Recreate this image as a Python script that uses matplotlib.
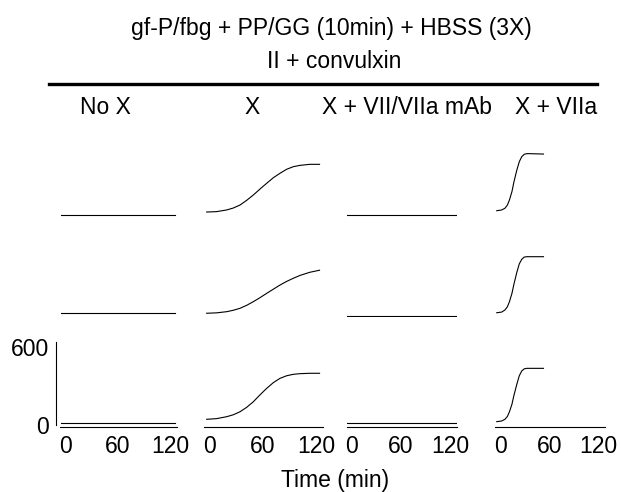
#Thrombin generation panels: 3 repeats x 4 conditions
import matplotlib.pyplot as plt

plt.rcParams['font.family'] = ['Liberation Sans', 'DejaVu Sans']

# Column labels
columns = ['No X', 'X', 'X + VII/VIIa mAb', 'X + VIIa']

# Time axes (min)
flat_time = [-5, 126]
x_time = [-3, 8, 19.5, 27, 34.5, 42, 49.5, 57, 64.5, 72, 79.5, 87, 94.5, 102, 113, 124]
mab_time = [-9, 127]
viia_time = [-4, 2, 6, 9, 11.5, 14.5, 17, 20.5, 23.5, 26.5, 29.5, 32.5, 36.5, 53]

# No X (flat), one value pair per row
nox_row1 = [9, 9]
nox_row2 = [9, 9]
nox_row3 = [9, 9]

# X
x_row1 = [32, 35, 48, 63, 86, 122, 163, 209, 253, 296, 330, 361, 381, 391, 399, 399]
x_row2 = [5, 8, 17, 28, 43, 66, 94, 125, 158, 190, 222, 250, 274, 296, 320, 336]
x_row3 = [40, 45, 60, 75, 98, 132, 175, 228, 278, 322, 355, 375, 386, 391, 394, 394]

# X + VII/VIIa mAb (flat)
mab_row1 = [9, 9]
mab_row2 = [-16, -16]
mab_row3 = [9, 9]

# X + VIIa
viia_row1 = [42, 48, 61, 86, 125, 188, 265, 355, 419, 458, 476, 481, 481, 478]
viia_row2 = [9, 14, 30, 55, 94, 157, 230, 320, 385, 420, 437, 440, 440, 440]
viia_row3 = [22, 27, 40, 62, 98, 155, 225, 310, 375, 412, 428, 432, 432, 432]

times = [flat_time, x_time, mab_time, viia_time]
rows = [
    [nox_row1, x_row1, mab_row1, viia_row1],
    [nox_row2, x_row2, mab_row2, viia_row2],
    [nox_row3, x_row3, mab_row3, viia_row3],
]

W, H = 621, 492
fs = 16.5
fig = plt.figure(figsize=(W / 100, H / 100), dpi=100)

# panel placement in pixels
col_left = [60.5, 204, 346.8, 495.1]
col_width = [116.4, 119.1, 109.9, 109.9]
row_bottom = [218.8, 316.5, 427.1]
row_height = 85.8

for r in range(3):
    for c in range(4):
        ax = fig.add_axes([col_left[c] / W, 1 - row_bottom[r] / H,
                           col_width[c] / W, row_height / H])
        ax.plot(times[c], rows[r][c], color='black', lw=0.8)
        ax.set_xlim(-6, 128)
        ax.set_ylim(-20, 640)
        for s in ax.spines.values():
            s.set_visible(False)
        ax.set_xticks([])
        ax.set_yticks([])
        if r == 2:
            ax.spines['bottom'].set_visible(True)
            ax.spines['bottom'].set_linewidth(0.8)
            ax.set_xticks([0, 60, 120])
            ax.tick_params(axis='x', length=0, pad=6, labelsize=fs)
        if r == 2 and c == 0:
            ax.spines['left'].set_visible(True)
            ax.spines['left'].set_linewidth(0.8)
            ax.spines['left'].set_position(('outward', 3.5))
            ax.spines['left'].set_bounds(-4, 637)
            ax.set_yticks([0, 600])
            ax.tick_params(axis='y', length=0, pad=5, labelsize=fs)

# Titel und Beschriftungen
fig.text(331 / W, 1 - 28 / H, 'gf-P/fbg + PP/GG (10min) + HBSS (3X)',
         ha='center', va='center', fontsize=fs)
fig.text(334 / W, 1 - 62 / H, 'II + convulxin',
         ha='center', va='center', fontsize=fs)
fig.add_artist(plt.Line2D([49 / W, 597 / W], [1 - 84 / H, 1 - 84 / H],
                          color='black', lw=2.4))
for x, lab in zip([105.5, 252, 407.5, 556], columns):
    fig.text(x / W, 1 - 107 / H, lab, ha='center', va='center', fontsize=fs)
fig.text(335 / W, 1 - 480 / H, 'Time (min)', ha='center', va='center', fontsize=fs)

fig.savefig('out.png', dpi=100)
